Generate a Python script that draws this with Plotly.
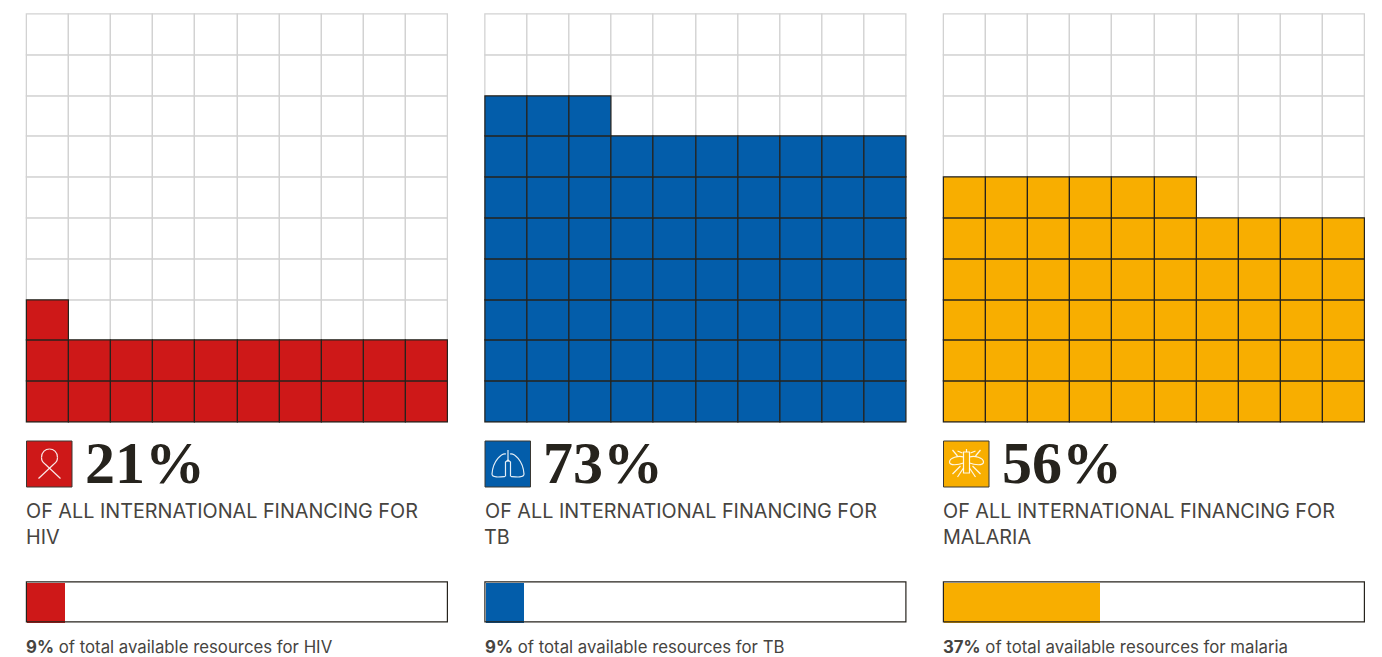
import plotly.graph_objects as go

W, H = 1382, 657

# ---------- data ----------
diseases = ["HIV", "TB", "MALARIA"]
share_of_international = [21, 73, 56]
share_of_resources = [9, 9, 37]
resource_labels = ["HIV", "TB", "malaria"]
colors = ["#CE1818", "#035DAA", "#F8AE00"]
grid_color = "#D2D2D2"
border_color = "#26231D"
text_color = "#46443F"

# ---------- layout constants (pixels) ----------
panel_left = [27.0, 485.5, 944.0]
panel_w = 421.0
waffle_top, waffle_bottom = 14.5, 422.5
bar_top, bar_bottom = 582.5, 622.5
PAD = 3.0  # room round each axis so that the outer borders are not clipped


def fx(p):
    return p / W


def fy(p):
    return 1 - p / H


def poly(points, close=False):
    s = "M" + " L".join(f"{fx(x):.5f},{fy(y):.5f}" for x, y in points)
    return s + (" Z" if close else "")


def curve(start, c1, c2, e):
    s = f"M{fx(start[0]):.5f},{fy(start[1]):.5f}"
    s += f" C{fx(c1[0]):.5f},{fy(c1[1]):.5f} {fx(c2[0]):.5f},{fy(c2[1]):.5f} {fx(e[0]):.5f},{fy(e[1]):.5f}"
    return s


def ribbon_paths(cx):
    top, foot = 449.0, 478.5
    return [
        curve((cx - 8, 457.5), (cx - 8, 452), (cx - 4, top), (cx, top)),
        curve((cx, top), (cx + 4, top), (cx + 8, 452), (cx + 8, 457.5)),
        curve((cx - 8, 457.5), (cx - 8, 461), (cx - 6, 463), (cx - 4.5, 464)),
        curve((cx + 8, 457.5), (cx + 8, 461), (cx + 6, 463), (cx + 4.5, 464)),
        poly([(cx - 4.5, 464), (cx + 11, foot)]),
        poly([(cx + 4.5, 464), (cx - 11, foot)]),
    ]


def lung_paths(cx):
    paths = [poly([(cx, 450), (cx, 462)])]
    for d in (-1, 1):
        paths.append(curve((cx + d * 2, 454), (cx + d * 6, 453), (cx + d * 15, 460), (cx + d * 16, 474)))
        paths.append(curve((cx + d * 16, 474), (cx + d * 16, 478), (cx + d * 8, 477), (cx + d * 3, 476.5)))
        paths.append(poly([(cx + d * 2.5, 476.5), (cx + d * 2.5, 462), (cx, 460)]))
    return paths


def mosquito_paths(cx):
    cy = 462.0
    paths = [
        poly([(cx - 3, 452), (cx + 3, 452), (cx + 3, 473), (cx - 3, 473)], close=True),
        poly([(cx, 449), (cx, 452)]),
    ]
    for d in (-1, 1):
        paths.append(curve((cx + d * 3, cy - 5), (cx + d * 8, cy - 7), (cx + d * 17, cy - 4), (cx + d * 17, cy)))
        paths.append(curve((cx + d * 17, cy), (cx + d * 17, cy + 4), (cx + d * 8, cy + 3), (cx + d * 3, cy + 1)))
        paths.append(poly([(cx + d * 4, cy - 9), (cx + d * 9, 451)]))
        paths.append(poly([(cx + d * 9, cy - 6), (cx + d * 14, 450)]))
        paths.append(poly([(cx + d * 6, cy + 4), (cx + d * 14, 474)]))
        paths.append(poly([(cx + d * 3, cy + 6), (cx + d * 9, 477)]))
    return paths


icon_funcs = [ribbon_paths, lung_paths, mosquito_paths]

fig = go.Figure()
layout_axes = {}
shapes = []
annotations = []


def add_text(x, y, text, size, family, color):
    annotations.append(dict(
        x=fx(x), y=fy(y), xref="paper", yref="paper", text=text, showarrow=False,
        xanchor="left", yanchor="middle", align="left", borderpad=0, borderwidth=0,
        font=dict(size=size, family=family, color=color),
    ))


def add_axes(n, left, top, bottom, xmax, ymin, ymax):
    suffix = "" if n == 1 else str(n)
    ref_x, ref_y = "x" + suffix, "y" + suffix
    xpad = PAD * xmax / panel_w
    ypad = PAD * (ymax - ymin) / (bottom - top)
    layout_axes["xaxis" + suffix] = dict(domain=[fx(left - PAD), fx(left + panel_w + PAD)],
                                         range=[-xpad, xmax + xpad], visible=False,
                                         anchor=ref_y, fixedrange=True)
    layout_axes["yaxis" + suffix] = dict(domain=[fy(bottom + PAD), fy(top - PAD)],
                                         range=[ymin - ypad, ymax + ypad], visible=False,
                                         anchor=ref_x, fixedrange=True)
    return ref_x, ref_y


for i, (name, pct, res, res_name, col, left) in enumerate(zip(
        diseases, share_of_international, share_of_resources, resource_labels, colors, panel_left)):
    xa, ya = add_axes(2 * i + 1, left, waffle_top, waffle_bottom, 10, 0, 10)

    cells = list(range(100))
    fig.add_trace(go.Bar(
        x=[c % 10 + 0.5 for c in cells], y=[1] * 100, base=[c // 10 for c in cells], width=1,
        marker=dict(color="white", line=dict(color=grid_color, width=1.3)),
        xaxis=xa, yaxis=ya, showlegend=False, hoverinfo="skip",
    ))
    filled = list(range(pct))
    fig.add_trace(go.Bar(
        x=[c % 10 + 0.5 for c in filled], y=[1] * pct, base=[c // 10 for c in filled], width=1,
        marker=dict(color=col, line=dict(color=border_color, width=1.2)),
        xaxis=xa, yaxis=ya, showlegend=False, name=name,
    ))

    bxa, bya = add_axes(8 + i, left, bar_top, bar_bottom, 100, -0.5, 0.5)
    fig.add_trace(go.Bar(
        x=[res], y=[0], width=1, orientation="h", marker=dict(color=col, line=dict(width=0)),
        xaxis=bxa, yaxis=bya, showlegend=False,
    ))
    fig.add_trace(go.Bar(
        x=[100], y=[0], width=1, orientation="h",
        marker=dict(color="rgba(0,0,0,0)", line=dict(color=border_color, width=1.2)),
        xaxis=bxa, yaxis=bya, showlegend=False, hoverinfo="skip",
    ))

    shapes.append(dict(type="rect", xref="paper", yref="paper",
                       x0=fx(left - 0.5), x1=fx(left + 45), y0=fy(487), y1=fy(441),
                       fillcolor=col, line=dict(color="#3A3833", width=1)))
    for p in icon_funcs[i](left + 22.5):
        shapes.append(dict(type="path", xref="paper", yref="paper", path=p,
                           line=dict(color="rgba(255,255,255,0.9)", width=1.2)))

    add_text(left + 57.5, 463, f"<b>{pct}%</b>", 60, "Liberation Serif", "#26231D")
    add_text(left - 1, 511, "OF ALL INTERNATIONAL FINANCING FOR", 19.8, "Inter", text_color)
    add_text(left - 1, 537, name, 19.8, "Inter", text_color)
    add_text(left - 1, 646.5, f"<b>{res}%</b> of total available resources for {res_name}", 16.8, "Inter", text_color)

fig.update_layout(
    width=W, height=H, autosize=False,
    margin=dict(l=0, r=0, t=0, b=0),
    paper_bgcolor="white", plot_bgcolor="white",
    barmode="overlay", bargap=0,
    shapes=shapes, annotations=annotations,
    **layout_axes,
)

fig.write_html("out.html", config={"displayModeBar": False},
               post_script="document.body.style.margin='0';document.body.style.overflow='hidden';")
